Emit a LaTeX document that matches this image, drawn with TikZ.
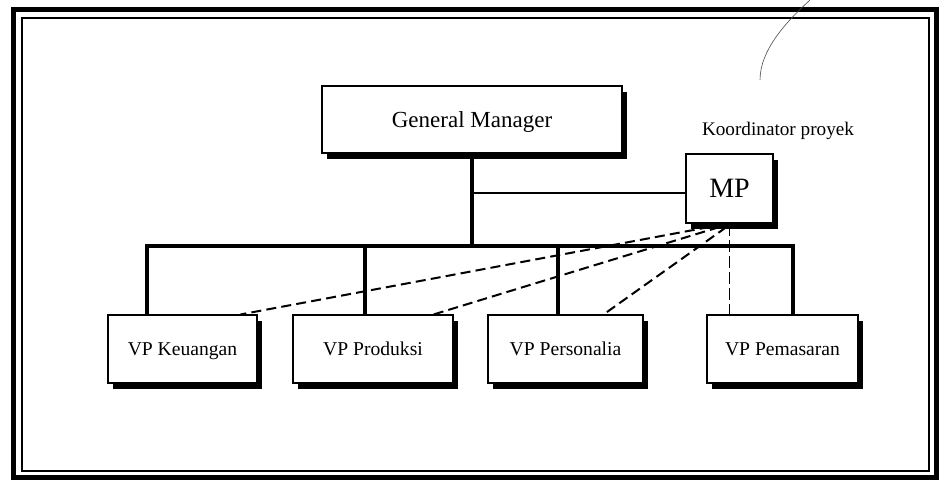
\documentclass[tikz,border=0pt]{standalone}
\usepackage{fontspec}
\setmainfont{Liberation Serif}
\usetikzlibrary{calc,shadows}
\pgfdeclarelayer{background}
\pgfdeclarelayer{paper}
\pgfsetlayers{paper,background,main}

\tikzset{
  orgbox/.style={draw=black, line width=0.55pt, fill=white, inner sep=0pt,
    text depth=0pt,
    drop shadow={shadow xshift=2.6pt, shadow yshift=-2.8pt, fill=black, opacity=1}},
  vpbox/.style={orgbox, minimum height=34pt, font=\fontsize{9.8}{11}\selectfont},
  tree/.style={line width=2pt},
  link/.style={line width=1pt},
  staffdash/.style={line width=1pt, dash pattern=on 5pt off 2.6pt},
  staffvert/.style={line width=0.6pt, dash pattern=on 6pt off 2pt},
}

\begin{document}
\begin{tikzpicture}[x=0.5pt, y=-0.5pt]
  % page
  \begin{pgfonlayer}{paper}
    \fill[white] (0,0) rectangle (945,481);
  \end{pgfonlayer}
  \useasboundingbox (0,0) rectangle (945,481);
  % double frame
  \draw[line width=2.5pt] (13,10) rectangle (936,477);
  \draw[line width=0.7pt] (22,18) rectangle (929,471);
  \draw[line width=0.3pt, black!70] (810,0) .. controls (786,22) and (760,50) .. (760,80);

  % boxes
  \node[orgbox, minimum width=150pt, minimum height=33.5pt,
        font=\fontsize{11.5}{13}\selectfont] (gm) at (472,119.5) {General Manager};
  \node[orgbox, line width=1pt, minimum width=43.5pt, minimum height=34.5pt,
        font=\fontsize{14}{16}\selectfont] (mp) at (729.5,188.5) {MP\hspace{4pt}};
  \node[font=\fontsize{9.6}{11}\selectfont] (ko) at (778,131) {Koordinator proyek};

  \node[vpbox, minimum width=74.5pt] (ku) at (182.5,349) {VP Keuangan};
  \node[vpbox, minimum width=80pt]   (pr) at (373,349)   {VP Produksi};
  \node[vpbox, minimum width=77.5pt] (ps) at (565.5,349) {VP Personalia};
  \node[vpbox, minimum width=75.5pt] (pm) at (782.5,349) {VP Pemasaran};

  % junction points of the line structure
  \coordinate (busL) at (147,246);
  \coordinate (busR) at (793,246);
  \coordinate (tj) at (472,193);
  \coordinate (dPr) at (365,246);
  \coordinate (dPs) at (558,246);

  \begin{pgfonlayer}{background}
    % line organisation
    \draw[tree] (gm.south) -- (gm.south |- busL);
    \draw[tree, line cap=rect] (busL |- ku.north) -- (busL) -- (busR) -- (busR |- pm.north);
    \draw[tree] (dPr) -- (dPr |- pr.north);
    \draw[tree] (dPs) -- (dPs |- ps.north);
    \draw[link] (tj) -- (tj -| mp.west);
    % project coordination (staff) lines
    \draw[staffdash] ($(mp.south)+(-20,3)$) -- ($(ku.north east)+(-17,0)$);
    \draw[staffdash] ($(mp.south)+(-10,3)$) -- ($(pr.north east)+(-20,0)$);
    \draw[staffdash] ($(mp.south)+(-3,3)$)  -- ($(ps.north east)+(-40,0)$);
    \draw[staffvert] (mp.south) -- (mp.south |- pm.north);
  \end{pgfonlayer}
\end{tikzpicture}
\end{document}
